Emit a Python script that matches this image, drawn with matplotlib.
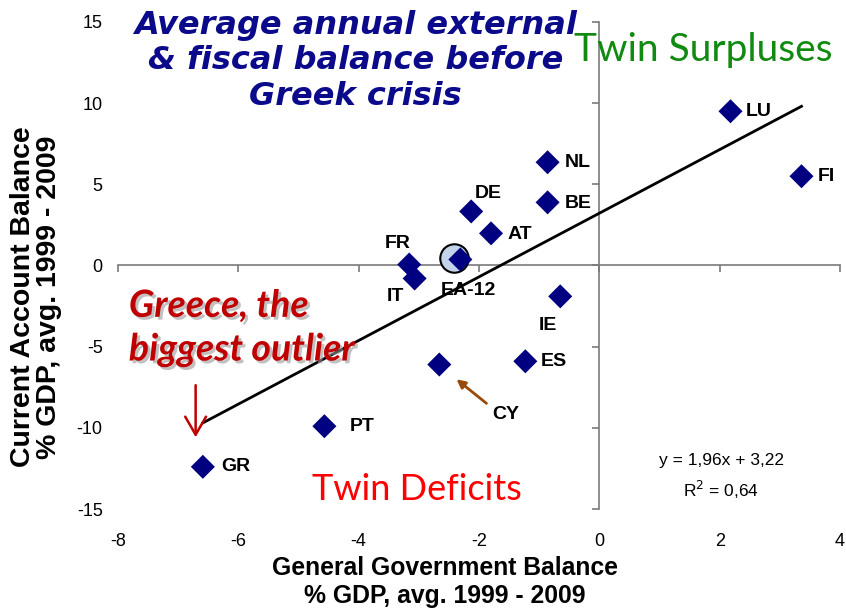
import matplotlib
matplotlib.use('Agg')
import matplotlib.pyplot as plt
import matplotlib.patheffects as pe
import numpy as np

# Country averages 1999-2009 (% of GDP)
countries = ['LU', 'FI', 'NL', 'BE', 'DE', 'AT', 'FR', 'IT', 'EA-12', 'IE', 'ES', 'CY', 'PT', 'GR']
gov_balance = [2.18, 3.36, -0.86, -0.86, -2.13, -1.80, -3.16, -3.07, -2.31, -0.65, -1.23, -2.66, -4.57, -6.59]
current_account = [9.5, 5.5, 6.36, 3.89, 3.33, 1.98, 0.06, -0.8, 0.37, -1.9, -5.9, -6.1, -9.9, -12.4]

# Trendline shown on the chart
slope = 1.96
intercept = 3.22
r_squared = 0.64

x_ticks = [-8, -6, -4, -2, 0, 2, 4]
y_ticks = [-15, -10, -5, 0, 5, 10, 15]

# label offsets (points) and alignment per country
label_pos = {
    'LU': (11, 0, 'left'), 'FI': (12, 0, 'left'), 'NL': (12, 0, 'left'),
    'BE': (12, -1, 'left'), 'DE': (12, 13, 'center'), 'AT': (12, -1, 'left'),
    'FR': (-8, 15, 'center'), 'IT': (-14, -13, 'center'), 'EA-12': (6, -22, 'center'),
    'IE': (-9, -21, 'center'), 'ES': (11, 0, 'left'), 'CY': (48, -36, 'center'),
    'PT': (18, 0, 'left'), 'GR': (13, 0, 'left'),
}

plt.rcParams['font.family'] = ['Liberation Sans', 'DejaVu Sans']
plt.rcParams['axes.unicode_minus'] = False

fig = plt.figure(figsize=(8.46, 6.16), dpi=100)
rect = [0.1395, 0.1737, 0.8534, 0.7906]

# axes with spines crossing at zero (tick marks only)
ax = fig.add_axes(rect)
# overlay axes carrying the tick labels at the edges
ax_lab = fig.add_axes(rect, sharex=ax, sharey=ax, frameon=False)

ax.set_xlim(-8, 4)
ax.set_ylim(-15, 15)
ax.set_xticks(x_ticks)
ax.set_yticks(y_ticks)
for s in ['top', 'right']:
    ax.spines[s].set_visible(False)
ax.spines['left'].set_position(('data', 0))
ax.spines['bottom'].set_position(('data', 0))
for s in ['left', 'bottom']:
    ax.spines[s].set_color('#7a7a7a')
    ax.spines[s].set_linewidth(1.2)
ax.tick_params(axis='both', direction='out', length=5, width=1.2, color='#7a7a7a',
               labelbottom=False, labelleft=False)

ax_lab.tick_params(axis='both', length=0, labelsize=13, labelcolor='black')
ax_lab.tick_params(axis='x', pad=17)
ax_lab.tick_params(axis='y', pad=11)
ax_lab.patch.set_visible(False)

# EA-12 highlight circle
ea = countries.index('EA-12')
ax.scatter([gov_balance[ea] - 0.1], [current_account[ea] + 0.12], s=420, marker='o',
           facecolor='#c3d3ea', edgecolor='black', linewidth=1.5, zorder=3)

ax.scatter(gov_balance, current_account, marker='D', s=150, color='#000080',
           edgecolor='none', zorder=4)

# trendline over the data range
xs = np.array([min(gov_balance), max(gov_balance)])
ax.plot(xs, slope * xs + intercept, color='black', lw=2, zorder=3)

for name, gx, cy in zip(countries, gov_balance, current_account):
    dx, dy, ha = label_pos[name]
    ax.annotate(name, (gx, cy), xytext=(dx, dy), textcoords='offset points',
                ha=ha, va='center', fontsize=14, fontweight='bold', zorder=5)

# CY pointer
ax.annotate('', xy=(-2.41, -6.9), xytext=(-1.84, -8.6),
            arrowprops=dict(arrowstyle='-|>,head_length=0.5,head_width=0.25',
                            color='#9a4a0a', lw=2), zorder=5)

# Greece pointer
ax.annotate('', xy=(-6.71, -10.75), xytext=(-6.71, -7.2),
            arrowprops=dict(arrowstyle='->,head_length=1.3,head_width=0.75',
                            color='#c00000', lw=1.8), zorder=5)

ax.text(-4.05, 12.6, 'Average annual external\n& fiscal balance before\nGreek crisis',
        ha='center', va='center', fontsize=23, fontweight='bold', style='italic',
        color='#0a0a8a', family='DejaVu Sans', linespacing=1.2)

ax.text(1.73, 13.3, 'Twin Surpluses', ha='center', va='center', fontsize=28,
        color='#118a11', family=['Lato', 'DejaVu Sans'])
ax.text(-3.04, -13.8, 'Twin Deficits', ha='center', va='center', fontsize=26,
        color='#ff0000', family=['Lato', 'DejaVu Sans'])

ax.text(-7.82, -3.8, 'Greece, the\nbiggest outlier', ha='left', va='center',
        fontsize=27, fontweight='bold', style='italic', color='#c00000',
        family=['Lato', 'DejaVu Sans'], linespacing=1.3,
        path_effects=[pe.SimplePatchShadow(offset=(2, -2), shadow_rgbFace='#999999', alpha=0.6),
                      pe.Normal()])

ax.text(2.03, -12.0, f'y = {slope:.2f}x + {intercept:.2f}'.replace('.', ','),
        ha='center', va='center', fontsize=12.5)
ax.text(2.03, -13.8, f'R$^2$ = {r_squared:.2f}'.replace('.', ','),
        ha='center', va='center', fontsize=12.5)

fig.text(445 / 846, 1 - 582 / 616, 'General Government Balance\n% GDP, avg. 1999 - 2009',
         ha='center', va='center', fontsize=17.8, fontweight='bold', linespacing=1.2)
fig.text(36 / 846, 1 - 297 / 616, 'Current Account Balance\n% GDP, avg. 1999 - 2009',
         ha='center', va='center', rotation=90, fontsize=20.5, fontweight='bold',
         linespacing=1.0)

fig.savefig('out.png', dpi=100)
